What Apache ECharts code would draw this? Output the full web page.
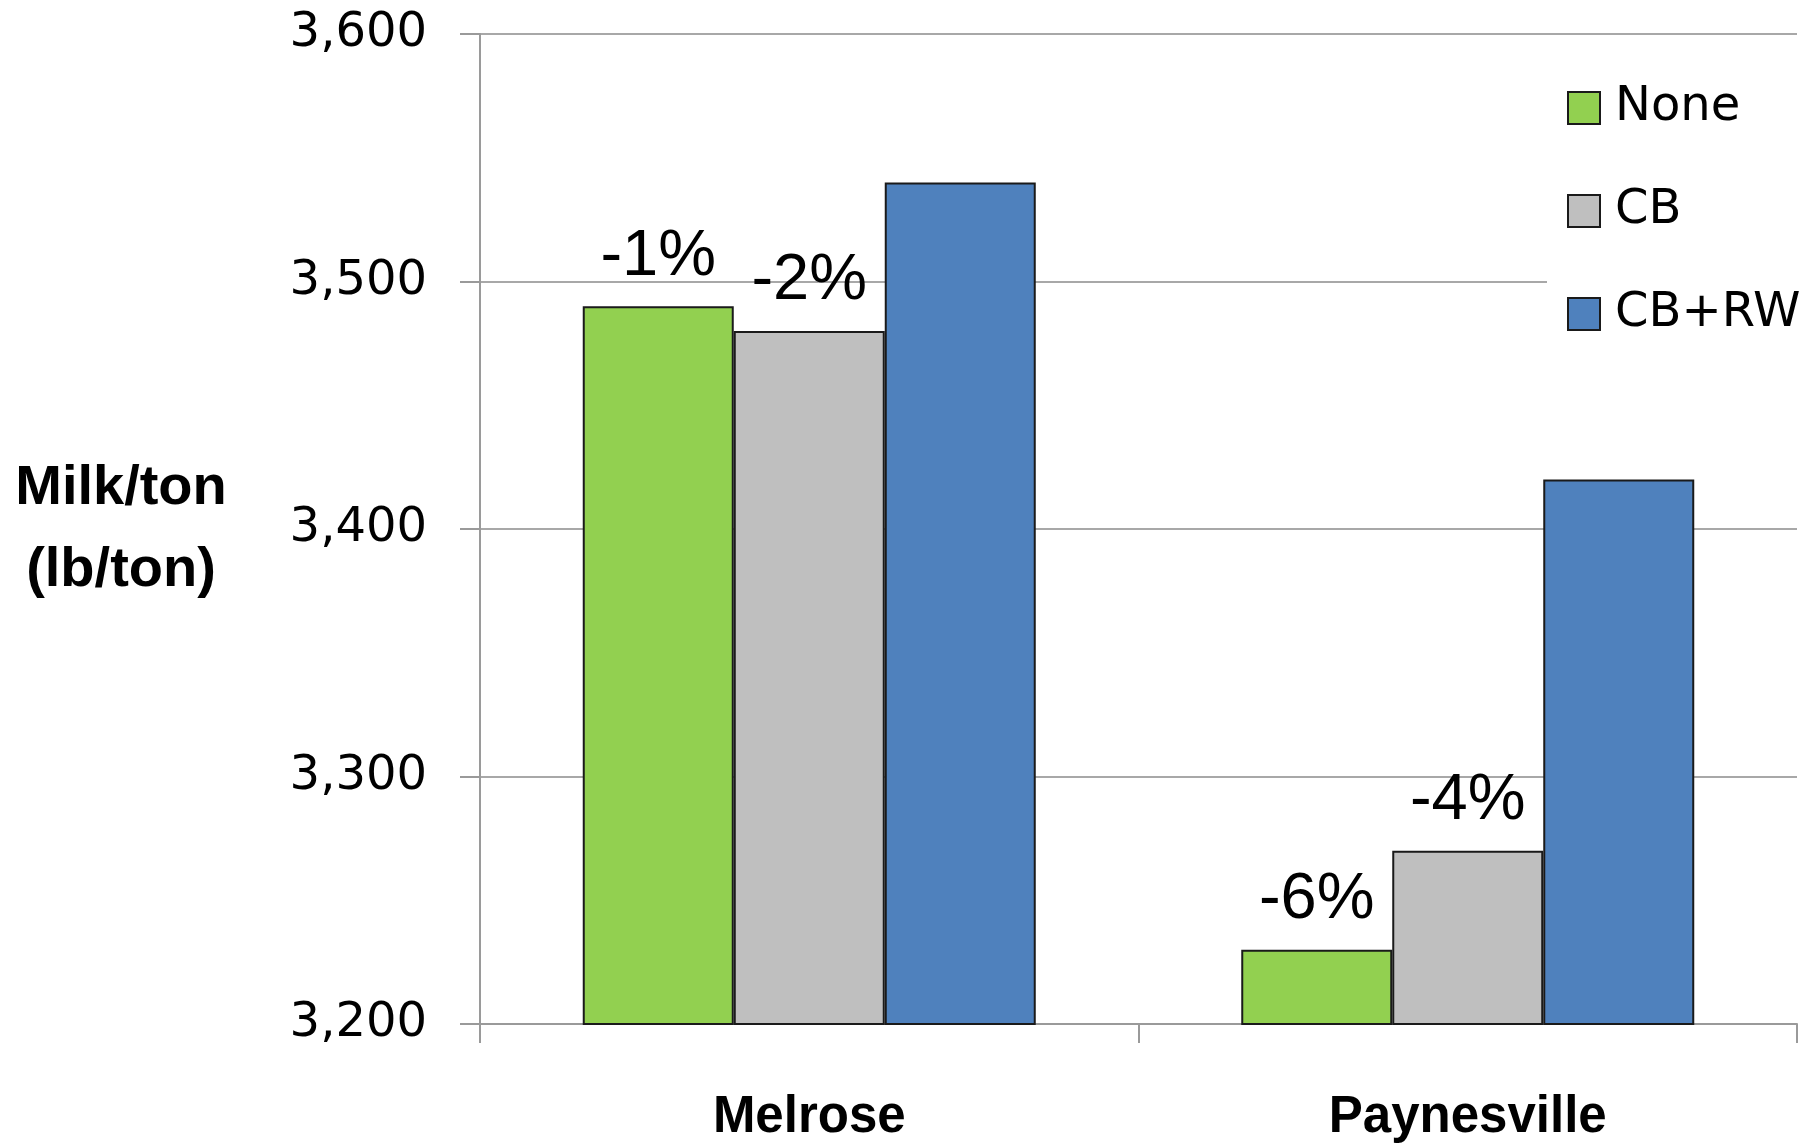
<!DOCTYPE html>
<html>
<head>
<meta charset="utf-8">
<script src="https://cdn.jsdelivr.net/npm/echarts@6/dist/echarts.min.js"></script>
<style>
html,body{margin:0;padding:0;background:#fff;}
#chart{width:1806px;height:1145px;}
</style>
</head>
<body>
<div id="chart"></div>
<script>
const categories = ['Melrose', 'Paynesville'];
const seriesNames = ['None', 'CB', 'CB+RW'];
const noneValues = [3490, 3230];
const cbValues = [3480, 3270];
const cbrwValues = [3540, 3420];
const nonePct = ['-1%', '-6%'];
const cbPct = ['-2%', '-4%'];
const yMin = 3200, yMax = 3600, yStep = 100;
const yAxisTitle = 'Milk/ton\n(lb/ton)';

const chart = echarts.init(document.getElementById('chart'));
const barBorder = { borderColor: '#1a1a1a', borderWidth: 2 };
const pctLabel = (arr) => ({
  show: true, position: 'top', distance: 17,
  formatter: p => arr[p.dataIndex],
  fontFamily: 'Liberation Sans, Arial, sans-serif', fontSize: 65, lineHeight: 65, color: '#000'
});

chart.setOption({
  animation: false,
  backgroundColor: '#fff',
  grid: { left: 480, right: 9, top: 34, bottom: 121, containLabel: false },
  legend: {
    orient: 'vertical', left: 1547, top: 64,
    padding: [20, 20, 20, 20],
    backgroundColor: '#fff',
    icon: 'rect',
    itemWidth: 32, itemHeight: 32, itemGap: 55,
    data: seriesNames,
    textStyle: { fontFamily: 'DejaVu Sans', fontSize: 48, lineHeight: 48, color: '#000', padding: [0, 0, 0, 10] },
    itemStyle: { borderColor: '#1a1a1a', borderWidth: 2 }
  },
  graphic: [{
    type: 'text', x: 121, y: 530,
    style: {
      text: yAxisTitle, textAlign: 'center', textVerticalAlign: 'middle',
      font: 'bold 56px "Liberation Sans", Arial, sans-serif', lineHeight: 82, fill: '#000'
    }
  }],
  xAxis: {
    type: 'category', data: categories,
    axisLine: { lineStyle: { color: '#9a9a9a', width: 2 } },
    axisTick: { show: true, length: 19, lineStyle: { color: '#9a9a9a', width: 2 } },
    axisLabel: { margin: 68, fontFamily: 'Liberation Sans, Arial, sans-serif', fontWeight: 'bold', fontSize: 51, lineHeight: 51, color: '#000' }
  },
  yAxis: {
    type: 'value', min: yMin, max: yMax, interval: yStep,
    axisLine: { show: true, lineStyle: { color: '#9a9a9a', width: 2 } },
    axisTick: { show: true, length: 20, lineStyle: { color: '#9a9a9a', width: 2 } },
    splitLine: { lineStyle: { color: '#a8a8a8', width: 2 } },
    axisLabel: { margin: 53, fontFamily: 'DejaVu Sans', fontSize: 48, color: '#000',
      formatter: v => v.toLocaleString('en-US') }
  },
  series: [
    { name: seriesNames[0], type: 'bar', data: noneValues, barWidth: 151, barGap: '0%',
      itemStyle: Object.assign({ color: '#92d050' }, barBorder), label: pctLabel(nonePct) },
    { name: seriesNames[1], type: 'bar', data: cbValues, barWidth: 151, barGap: '0%',
      itemStyle: Object.assign({ color: '#bfbfbf' }, barBorder), label: pctLabel(cbPct) },
    { name: seriesNames[2], type: 'bar', data: cbrwValues, barWidth: 151, barGap: '0%',
      itemStyle: Object.assign({ color: '#4f81bd' }, barBorder) }
  ]
});
</script>
</body>
</html>
